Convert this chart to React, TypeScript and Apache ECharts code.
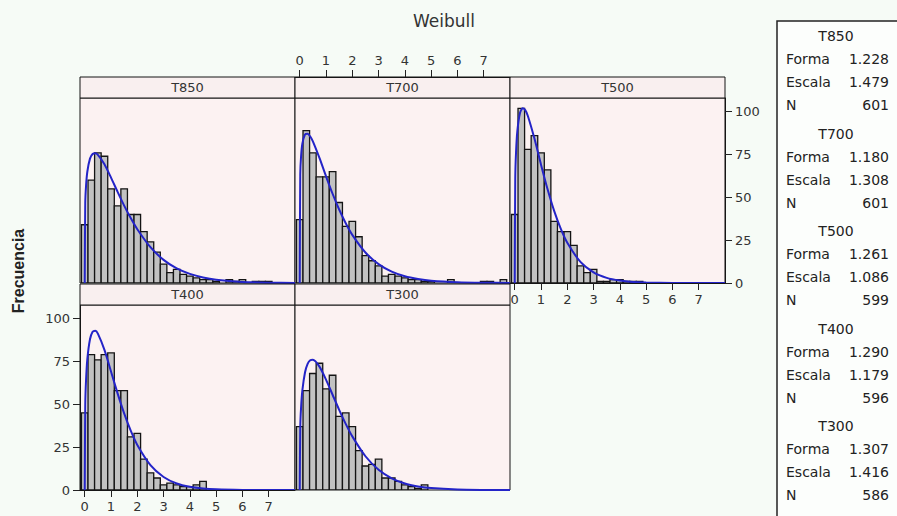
import React, { useEffect, useRef } from 'react';
import * as echarts from 'echarts';

// ---------- data ----------
const panels = ['T850', 'T700', 'T500', 'T400', 'T300'];
const formaVals = [1.228, 1.18, 1.261, 1.29, 1.307];
const escalaVals = [1.479, 1.308, 1.086, 1.179, 1.416];
const nVals = [601, 601, 599, 596, 586];

const binStart = 0;
const binWidth = 0.25;

const countsT850 = [34, 60, 76, 74, 55, 45, 55, 40, 40, 30, 24, 18, 11, 6, 8, 5, 4, 3, 2, 2, 1, 0, 2, 1, 2, 0, 1, 1, 1];
const countsT700 = [37, 89, 76, 62, 62, 65, 47, 33, 36, 27, 16, 13, 10, 4, 5, 4, 3, 2, 2, 1, 1, 0, 0, 2, 0, 0, 0, 0, 1, 1, 0, 2];
const countsT500 = [40, 102, 78, 86, 76, 66, 36, 30, 30, 22, 10, 6, 8, 1, 1, 2, 2, 1, 1, 1];
const countsT400 = [45, 79, 76, 79, 80, 58, 58, 31, 33, 18, 10, 7, 3, 4, 3, 2, 2, 3, 5];
const countsT300 = [37, 58, 68, 74, 59, 67, 43, 45, 37, 23, 14, 15, 18, 7, 7, 5, 3, 2, 1, 3];

const curveX = [0, 0.02, 0.05, 0.1, 0.2, 0.3, 0.4, 0.5, 0.75, 1, 1.25, 1.5, 1.75, 2, 2.5, 3, 3.5, 4, 4.5, 5, 6, 7, 8];
const curveT850 = [0, 46.5, 56.7, 65.1, 72.6, 75.3, 75.7, 74.8, 69.3, 61.5, 53.2, 45.2, 37.9, 31.4, 20.9, 13.5, 8.5, 5.3, 3.2, 1.9, 0.65, 0.2, 0.06];
const curveT700 = [0, 63.4, 73.7, 81.3, 86.7, 87.2, 85.5, 82.7, 73.0, 62.3, 52.1, 42.9, 34.9, 28.1, 17.8, 11.0, 6.6, 3.9, 2.3, 1.3, 0.43, 0.13, 0.04];
const curveT500 = [0, 60.9, 76.3, 88.8, 99.3, 102.0, 100.9, 97.5, 84.3, 69.1, 54.7, 42.1, 31.7, 23.5, 12.3, 6.2, 3.0, 1.4, 0.6, 0.27, 0.05, 0.01, 0];
const curveT400 = [0, 49.7, 64.1, 76.5, 88.0, 92.4, 93.0, 91.3, 81.8, 69.2, 56.4, 44.7, 34.6, 26.3, 14.5, 7.6, 3.8, 1.85, 0.85, 0.37, 0.06, 0.01, 0];
const curveT300 = [0, 36.4, 47.8, 58.1, 68.6, 73.6, 75.7, 76.0, 72.0, 64.4, 55.6, 46.8, 38.6, 31.3, 19.7, 11.8, 6.8, 3.8, 2.1, 1.1, 0.27, 0.06, 0.01];

const xTicks = [0, 1, 2, 3, 4, 5, 6, 7];
const yTicks = [0, 25, 50, 75, 100];

const allCounts = [countsT850, countsT700, countsT500, countsT400, countsT300];
const allCurves = [curveT850, curveT700, curveT500, curveT400, curveT300];

// ---------- layout ----------
const FONT = 'DejaVu Sans';
const PW = 215;
const PH = 185;
const STRIP = 21;
const layout = [
  { left: 80, top: 98 },
  { left: 295, top: 98 },
  { left: 510, top: 98 },
  { left: 80, top: 305 },
  { left: 295, top: 305 },
];
const xLabelled = [false, true, true, true, false];
const yLabelled = [false, false, true, true, false];

export default function App() {
  const ref = useRef<HTMLDivElement>(null);

  useEffect(() => {
    if (!ref.current) return;
    const chart = echarts.init(ref.current, null, { renderer: 'svg' });

    const grids = layout.map((l) => ({
      left: l.left,
      top: l.top,
      width: PW,
      height: PH,
      show: true,
      borderColor: '#151515',
      borderWidth: 1,
      backgroundColor: '#fcf2f2',
      containLabel: false,
    }));

    const xAxes = layout.map((_, i) => ({
      type: 'value',
      gridIndex: i,
      min: -0.18,
      max: 8,
      position: i === 1 ? 'top' : 'bottom',
      offset: i === 1 ? STRIP : 0,
      splitLine: { show: false },
      axisLine: { show: xLabelled[i], onZero: false, lineStyle: { color: '#151515', width: 1 } },
      axisTick: {
        show: xLabelled[i],
        customValues: xTicks,
        length: 7,
        lineStyle: { color: '#222', width: 1 },
      },
      axisLabel: {
        show: xLabelled[i],
        customValues: xTicks,
        color: '#333',
        fontSize: 13,
        fontFamily: FONT,
        margin: 10,
      },
      z: 12,
    }));

    const yAxes = layout.map((_, i) => ({
      type: 'value',
      gridIndex: i,
      min: 0,
      max: 108,
      position: i === 2 ? 'right' : 'left',
      splitLine: { show: false },
      axisLine: { show: yLabelled[i], onZero: false, lineStyle: { color: '#151515', width: 1 } },
      axisTick: {
        show: yLabelled[i],
        customValues: yTicks,
        length: 7,
        lineStyle: { color: '#222', width: 1 },
      },
      axisLabel: {
        show: yLabelled[i],
        customValues: yTicks,
        color: '#333',
        fontSize: 13,
        fontFamily: FONT,
        margin: 10,
      },
    }));

    const series: any[] = [];
    panels.forEach((name, i) => {
      series.push({
        name: name + ' histograma',
        type: 'custom',
        xAxisIndex: i,
        yAxisIndex: i,
        clip: true,
        data: allCounts[i].map((c, j) => [binStart + j * binWidth, c]),
        encode: { x: 0, y: 1 },
        renderItem: (params: any, api: any) => {
          const x = api.value(0);
          const y = api.value(1);
          if (!y) return null;
          const p1 = api.coord([x - binWidth / 2, y]);
          const p2 = api.coord([x + binWidth / 2, 0]);
          return {
            type: 'rect',
            shape: { x: p1[0], y: p1[1], width: p2[0] - p1[0], height: p2[1] - p1[1] },
            style: { fill: '#c2c2c2', stroke: '#141414', lineWidth: 1.3 },
          };
        },
        z: 2,
      });
      series.push({
        name: name + ' Weibull',
        type: 'line',
        xAxisIndex: i,
        yAxisIndex: i,
        data: curveX.map((x, j) => [x, allCurves[i][j]]),
        showSymbol: false,
        smooth: 0.25,
        clip: true,
        lineStyle: { color: '#2424c8', width: 2 },
        z: 3,
      });
    });

    const graphics: any[] = [];
    // strips
    panels.forEach((name, i) => {
      const l = layout[i];
      graphics.push({
        type: 'rect',
        shape: { x: l.left, y: l.top - STRIP, width: PW, height: STRIP },
        style: { fill: '#f9efef', stroke: '#151515', lineWidth: 1 },
        z: 10,
      });
      graphics.push({
        type: 'text',
        x: l.left + PW / 2,
        y: l.top - STRIP / 2,
        style: {
          text: name,
          fill: '#333',
          font: `13px "${FONT}"`,
          textAlign: 'center',
          textVerticalAlign: 'middle',
        },
        z: 11,
      });
    });

    // y-axis name
    graphics.push({
      type: 'text',
      x: 18,
      y: 271,
      rotation: Math.PI / 2,
      style: {
        text: 'Frecuencia',
        fill: '#222',
        font: `bold 16px "Liberation Sans"`,
        textAlign: 'center',
        textVerticalAlign: 'middle',
      },
      z: 11,
    });

    // legend box
    graphics.push({
      type: 'rect',
      shape: { x: 777, y: 21, width: 140, height: 520 },
      style: { fill: '#fcfefc', stroke: '#222', lineWidth: 1.5 },
      z: 10,
    });
    const rowLabels = ['Forma', 'Escala', 'N'];
    panels.forEach((name, i) => {
      const y0 = 36 + i * 97.5;
      graphics.push({
        type: 'text',
        x: 836,
        y: y0,
        style: { text: name, fill: '#222', font: `14px "${FONT}"`, textAlign: 'center', textVerticalAlign: 'middle' },
        z: 11,
      });
      const vals = [formaVals[i].toFixed(3), escalaVals[i].toFixed(3), String(nVals[i])];
      rowLabels.forEach((lab, r) => {
        const yy = y0 + 23 * (r + 1);
        graphics.push({
          type: 'text',
          x: 786,
          y: yy,
          style: { text: lab, fill: '#222', font: `14px "${FONT}"`, textAlign: 'left', textVerticalAlign: 'middle' },
          z: 11,
        });
        graphics.push({
          type: 'text',
          x: 889,
          y: yy,
          style: { text: vals[r], fill: '#222', font: `14px "${FONT}"`, textAlign: 'right', textVerticalAlign: 'middle' },
          z: 11,
        });
      });
    });

    chart.setOption({
      animation: false,
      backgroundColor: '#f6fbf6',
      title: {
        text: 'Weibull',
        left: 408,
        top: 7,
        textStyle: { fontFamily: FONT, fontSize: 17, fontWeight: 'normal', color: '#333' },
      },
      grid: grids,
      xAxis: xAxes,
      yAxis: yAxes,
      series,
      graphic: graphics,
    });

    return () => chart.dispose();
  }, []);

  return (
    <div
      ref={ref}
      style={{ position: 'fixed', left: 0, top: 0, width: 897, height: 516, background: '#f6fbf6' }}
    />
  );
}
